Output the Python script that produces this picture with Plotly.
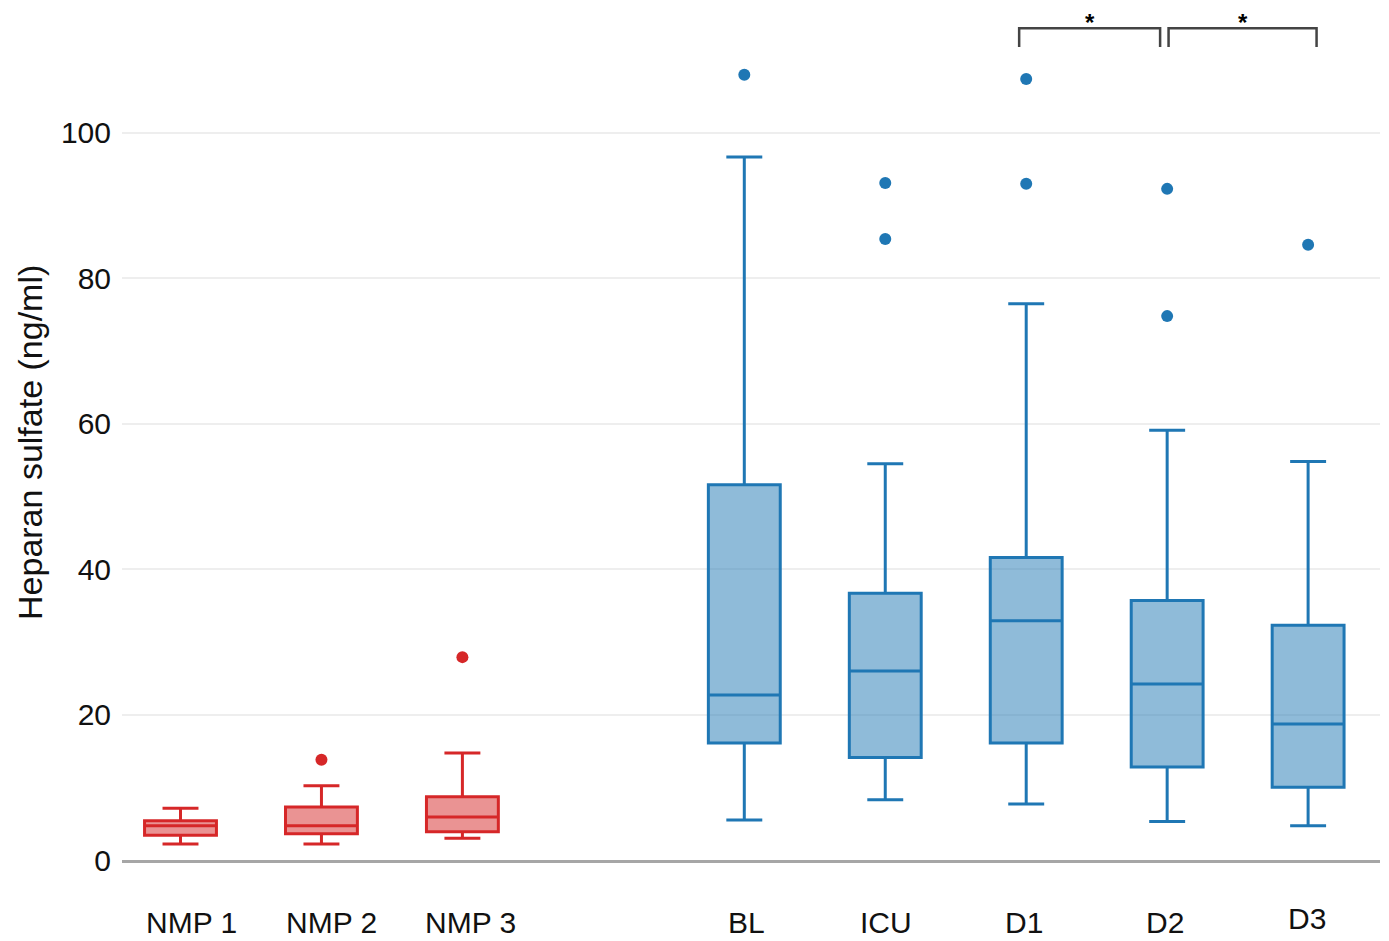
import plotly.graph_objects as go

# ---- data ----
categories = ["NMP 1", "NMP 2", "NMP 3", "BL", "ICU", "D1", "D2", "D3"]
slots = [0, 1, 2, 4, 5, 6, 7, 8]          # one empty slot between NMP 3 and BL
group = ["NMP", "NMP", "NMP", "PT", "PT", "PT", "PT", "PT"]

lower_whisker = [2.2, 2.2, 3.0, 5.5, 8.3, 7.7, 5.3, 4.7]
q1_vals = [3.4, 3.6, 3.9, 16.1, 14.1, 16.1, 12.8, 10.0]
median_vals = [4.7, 4.7, 5.9, 22.7, 26.0, 32.9, 24.2, 18.7]
q3_vals = [5.4, 7.3, 8.7, 51.6, 36.7, 41.6, 35.7, 32.3]
upper_whisker = [7.1, 10.2, 14.7, 96.7, 54.5, 76.5, 59.1, 54.8]

outliers = {
    "NMP 2": [13.8],
    "NMP 3": [27.9],
    "BL": [108.0],
    "ICU": [93.1, 85.4],
    "D1": [107.4, 93.0],
    "D2": [92.3, 74.8],
    "D3": [84.6],
}

significance = [("D1", "D2", "*"), ("D2", "D3", "*")]

y_ticks = [0, 20, 40, 60, 80, 100]
y_title = "Heparan sulfate (ng/ml)"

# ---- styling ----
colors = {"NMP": ("#d62728", "rgba(214,39,40,0.5)"),
          "PT": ("#1f77b4", "rgba(31,119,180,0.5)")}
label_xshift = [11, 10, 8, 2, 1, -2, -2, -1]   # px nudges of category labels
label_yshift = [-62, -62, -62, -62, -62, -62, -62, -58]

fig = go.Figure()

for g in ["NMP", "PT"]:
    idx = [i for i, gg in enumerate(group) if gg == g]
    line_c, fill_c = colors[g]
    fig.add_trace(go.Box(
        x=[slots[i] for i in idx],
        q1=[q1_vals[i] for i in idx],
        median=[median_vals[i] for i in idx],
        q3=[q3_vals[i] for i in idx],
        lowerfence=[lower_whisker[i] for i in idx],
        upperfence=[upper_whisker[i] for i in idx],
        width=0.51,
        whiskerwidth=0.5,
        boxpoints=False,
        line=dict(color=line_c, width=3),
        fillcolor=fill_c,
        showlegend=False,
    ))
    ox, oy = [], []
    for i in idx:
        for v in outliers.get(categories[i], []):
            ox.append(slots[i])
            oy.append(v)
    fig.add_trace(go.Scatter(
        x=ox, y=oy, mode="markers",
        marker=dict(color=line_c, size=12),
        showlegend=False,
    ))

# category labels
for i, cat in enumerate(categories):
    fig.add_annotation(x=slots[i], y=0, yref="paper", text=cat,
                       showarrow=False, yanchor="middle",
                       xshift=label_xshift[i], yshift=label_yshift[i],
                       font=dict(size=30, color="#111111"))

# y-axis title
fig.add_annotation(x=0, xref="paper", y=0.4906, yref="paper", text=y_title,
                   textangle=-90, showarrow=False, xanchor="center", yanchor="middle",
                   xshift=-92, borderpad=0, font=dict(size=34, color="#111111"))

# significance brackets
pos = dict(zip(categories, slots))
bracket_top, bracket_drop = 114.4, 2.6
for a, b, label in significance:
    x0 = pos[a] - 0.05 if a == "D1" else pos[a] + 0.01
    x1 = pos[b] - 0.05 if b == "D2" else pos[b] + 0.06
    fig.add_trace(go.Scatter(
        x=[x0, x0, x1, x1],
        y=[bracket_top - bracket_drop, bracket_top, bracket_top, bracket_top - bracket_drop],
        mode="lines", line=dict(color="#444444", width=2.5),
        showlegend=False, hoverinfo="skip",
    ))
    fig.add_annotation(x=(x0 + x1) / 2, y=1, yref="paper", text="<b>" + label + "</b>",
                       showarrow=False, yanchor="top", yshift=2, borderpad=0,
                       font=dict(size=24, color="black", family="Liberation Sans"))

fig.update_layout(
    width=1381, height=933,
    margin=dict(l=114, r=9, t=2, b=81),
    plot_bgcolor="white", paper_bgcolor="white",
    font=dict(family="Liberation Sans, Arial, sans-serif", size=30, color="#111111"),
    xaxis=dict(
        range=[-0.415, 8.51],
        tickmode="array", tickvals=slots, ticktext=[""] * len(slots),
        showgrid=False, zeroline=False,
        showline=True, linecolor="#a6a6a6", linewidth=3,
        ticks="",
        automargin=False,
    ),
    yaxis=dict(
        range=[0, 116.9],
        tickmode="array", tickvals=y_ticks,
        showgrid=True, gridcolor="#eeeeee", gridwidth=1.5,
        zeroline=False, showline=False,
        ticks="", ticklabelstandoff=10,
        tickfont=dict(size=30),
        automargin=False,
    ),
)

fig.write_html("out.html")
